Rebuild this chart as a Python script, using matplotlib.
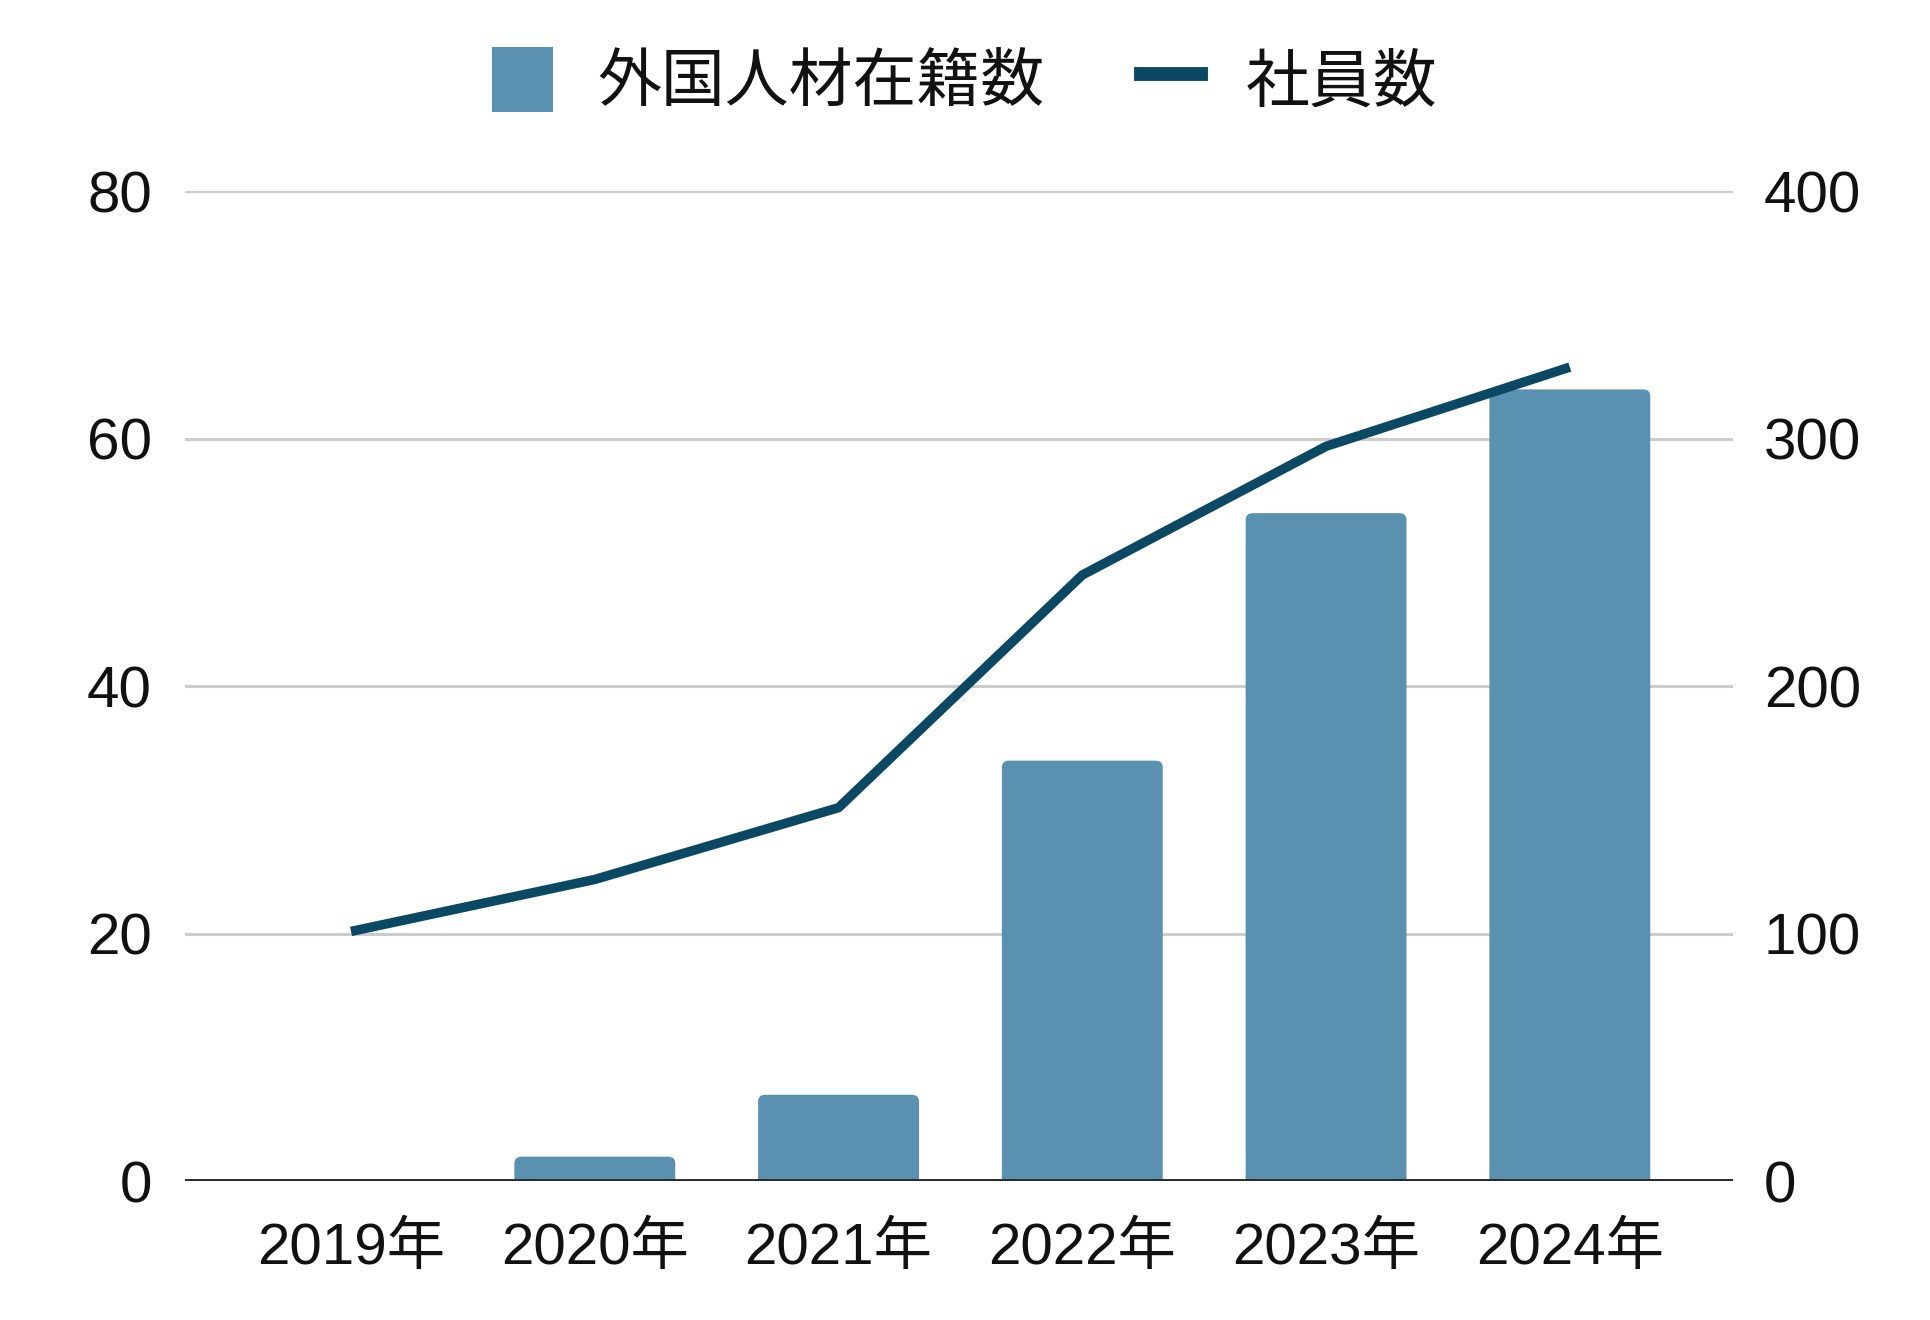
import matplotlib.pyplot as plt
from matplotlib.lines import Line2D
from matplotlib.patches import Patch, FancyBboxPatch

plt.rcParams['font.family'] = ['Liberation Sans', 'Noto Sans CJK JP']

# データ
years = ['2019年', '2020年', '2021年', '2022年', '2023年', '2024年']
foreign_staff = [0, 2, 7, 34, 54, 64]
employees = [101, 122, 151, 245, 297, 329]

bar_color = '#5b91b0'
line_color = '#0b4864'
text_color = '#111111'

fig = plt.figure(figsize=(19.3, 13.2), dpi=100)
ax = fig.add_axes([0.096, 0.105, 0.802, 0.75])
ax2 = ax.twinx()

x = list(range(len(years)))
bars = ax.bar(x, foreign_staff, width=0.66, color=bar_color, zorder=2)

# 棒の上の角を少し丸くする
for b in bars:
    b.set_visible(False)
    h = b.get_height()
    if h <= 0:
        continue
    p = FancyBboxPatch((b.get_x(), -2), b.get_width(), h + 2,
                       boxstyle='round,pad=0,rounding_size=0.03',
                       mutation_aspect=18, facecolor=bar_color,
                       edgecolor='none', zorder=2)
    ax.add_patch(p)

ax2.plot(x, employees, color=line_color, linewidth=6.8, solid_capstyle='butt', zorder=3)

ax.set_xlim(-0.68, 5.67)
ax.set_ylim(0, 80)
ax2.set_ylim(0, 400)
ax.set_yticks([0, 20, 40, 60, 80])
ax2.set_yticks([0, 100, 200, 300, 400])
ax.set_xticks(x)
ax.set_xticklabels(years)

ax.grid(axis='y', color='#cccccc', linewidth=2.2, zorder=0)
ax.set_axisbelow(True)
for a in (ax, ax2):
    for s in a.spines.values():
        s.set_visible(False)
    a.tick_params(length=0, labelsize=42, colors=text_color)
ax.tick_params(axis='y', pad=24)
ax2.tick_params(axis='y', pad=22)
ax.tick_params(axis='x', pad=29)
ax.axhline(0, color='#2a2a2a', linewidth=2.8, zorder=4)

handles = [Patch(facecolor=bar_color, edgecolor='none'),
           Line2D([0], [0], color=line_color, linewidth=10)]
fig.legend(handles, ['外国人材在籍数', '社員数'], loc='upper center',
           bbox_to_anchor=(0.5, 1.008), ncol=2, frameon=False, fontsize=46,
           handlelength=0.95, handleheight=1.2, handletextpad=0.7,
           columnspacing=1.5, labelcolor=text_color)

fig.savefig('out.png', dpi=100, facecolor='white')
